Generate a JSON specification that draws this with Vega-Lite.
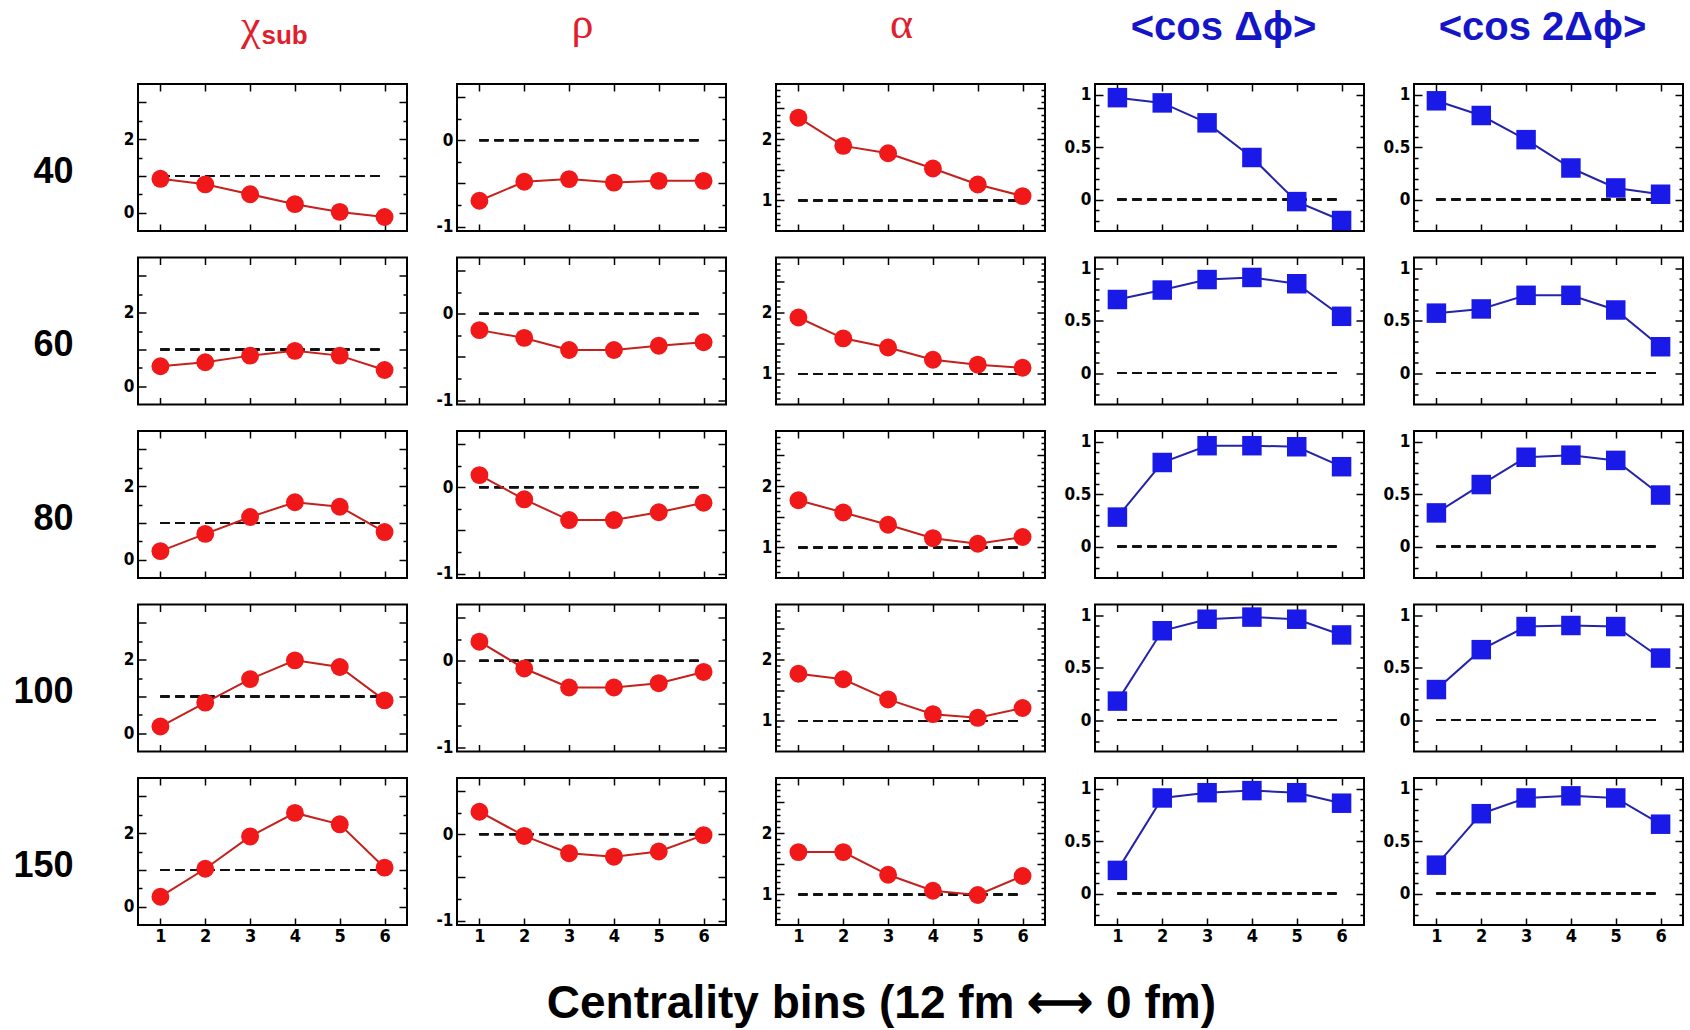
{
"$schema": "https://vega.github.io/schema/vega-lite/v6.json",
"background": "white",
"padding": {"left": 11, "top": 2, "right": 5, "bottom": 5},
"datasets": {"d": [
{"v":"chi","E":40,"bin":1,"val":0.92},{"v":"chi","E":40,"bin":2,"val":0.77},{"v":"chi","E":40,"bin":3,"val":0.50},{"v":"chi","E":40,"bin":4,"val":0.23},{"v":"chi","E":40,"bin":5,"val":0.02},{"v":"chi","E":40,"bin":6,"val":-0.12},
{"v":"chi","E":60,"bin":1,"val":0.54},{"v":"chi","E":60,"bin":2,"val":0.65},{"v":"chi","E":60,"bin":3,"val":0.83},{"v":"chi","E":60,"bin":4,"val":0.96},{"v":"chi","E":60,"bin":5,"val":0.83},{"v":"chi","E":60,"bin":6,"val":0.44},
{"v":"chi","E":80,"bin":1,"val":0.23},{"v":"chi","E":80,"bin":2,"val":0.70},{"v":"chi","E":80,"bin":3,"val":1.16},{"v":"chi","E":80,"bin":4,"val":1.56},{"v":"chi","E":80,"bin":5,"val":1.44},{"v":"chi","E":80,"bin":6,"val":0.75},
{"v":"chi","E":100,"bin":1,"val":0.18},{"v":"chi","E":100,"bin":2,"val":0.83},{"v":"chi","E":100,"bin":3,"val":1.47},{"v":"chi","E":100,"bin":4,"val":1.98},{"v":"chi","E":100,"bin":5,"val":1.80},{"v":"chi","E":100,"bin":6,"val":0.89},
{"v":"chi","E":150,"bin":1,"val":0.27},{"v":"chi","E":150,"bin":2,"val":1.03},{"v":"chi","E":150,"bin":3,"val":1.91},{"v":"chi","E":150,"bin":4,"val":2.55},{"v":"chi","E":150,"bin":5,"val":2.24},{"v":"chi","E":150,"bin":6,"val":1.06},
{"v":"rho","E":40,"bin":1,"val":-0.70},{"v":"rho","E":40,"bin":2,"val":-0.48},{"v":"rho","E":40,"bin":3,"val":-0.45},{"v":"rho","E":40,"bin":4,"val":-0.49},{"v":"rho","E":40,"bin":5,"val":-0.47},{"v":"rho","E":40,"bin":6,"val":-0.47},
{"v":"rho","E":60,"bin":1,"val":-0.19},{"v":"rho","E":60,"bin":2,"val":-0.28},{"v":"rho","E":60,"bin":3,"val":-0.42},{"v":"rho","E":60,"bin":4,"val":-0.42},{"v":"rho","E":60,"bin":5,"val":-0.37},{"v":"rho","E":60,"bin":6,"val":-0.33},
{"v":"rho","E":80,"bin":1,"val":0.14},{"v":"rho","E":80,"bin":2,"val":-0.14},{"v":"rho","E":80,"bin":3,"val":-0.38},{"v":"rho","E":80,"bin":4,"val":-0.38},{"v":"rho","E":80,"bin":5,"val":-0.29},{"v":"rho","E":80,"bin":6,"val":-0.18},
{"v":"rho","E":100,"bin":1,"val":0.22},{"v":"rho","E":100,"bin":2,"val":-0.09},{"v":"rho","E":100,"bin":3,"val":-0.31},{"v":"rho","E":100,"bin":4,"val":-0.31},{"v":"rho","E":100,"bin":5,"val":-0.26},{"v":"rho","E":100,"bin":6,"val":-0.13},
{"v":"rho","E":150,"bin":1,"val":0.26},{"v":"rho","E":150,"bin":2,"val":-0.02},{"v":"rho","E":150,"bin":3,"val":-0.22},{"v":"rho","E":150,"bin":4,"val":-0.26},{"v":"rho","E":150,"bin":5,"val":-0.20},{"v":"rho","E":150,"bin":6,"val":-0.01},
{"v":"alpha","E":40,"bin":1,"val":2.35},{"v":"alpha","E":40,"bin":2,"val":1.89},{"v":"alpha","E":40,"bin":3,"val":1.77},{"v":"alpha","E":40,"bin":4,"val":1.52},{"v":"alpha","E":40,"bin":5,"val":1.26},{"v":"alpha","E":40,"bin":6,"val":1.07},
{"v":"alpha","E":60,"bin":1,"val":1.92},{"v":"alpha","E":60,"bin":2,"val":1.58},{"v":"alpha","E":60,"bin":3,"val":1.43},{"v":"alpha","E":60,"bin":4,"val":1.23},{"v":"alpha","E":60,"bin":5,"val":1.15},{"v":"alpha","E":60,"bin":6,"val":1.10},
{"v":"alpha","E":80,"bin":1,"val":1.77},{"v":"alpha","E":80,"bin":2,"val":1.57},{"v":"alpha","E":80,"bin":3,"val":1.37},{"v":"alpha","E":80,"bin":4,"val":1.15},{"v":"alpha","E":80,"bin":5,"val":1.06},{"v":"alpha","E":80,"bin":6,"val":1.17},
{"v":"alpha","E":100,"bin":1,"val":1.77},{"v":"alpha","E":100,"bin":2,"val":1.68},{"v":"alpha","E":100,"bin":3,"val":1.35},{"v":"alpha","E":100,"bin":4,"val":1.11},{"v":"alpha","E":100,"bin":5,"val":1.05},{"v":"alpha","E":100,"bin":6,"val":1.21},
{"v":"alpha","E":150,"bin":1,"val":1.69},{"v":"alpha","E":150,"bin":2,"val":1.69},{"v":"alpha","E":150,"bin":3,"val":1.32},{"v":"alpha","E":150,"bin":4,"val":1.06},{"v":"alpha","E":150,"bin":5,"val":0.99},{"v":"alpha","E":150,"bin":6,"val":1.30},
{"v":"c1","E":40,"bin":1,"val":0.97},{"v":"c1","E":40,"bin":2,"val":0.92},{"v":"c1","E":40,"bin":3,"val":0.73},{"v":"c1","E":40,"bin":4,"val":0.40},{"v":"c1","E":40,"bin":5,"val":-0.02},{"v":"c1","E":40,"bin":6,"val":-0.20},
{"v":"c1","E":60,"bin":1,"val":0.70},{"v":"c1","E":60,"bin":2,"val":0.79},{"v":"c1","E":60,"bin":3,"val":0.89},{"v":"c1","E":60,"bin":4,"val":0.91},{"v":"c1","E":60,"bin":5,"val":0.85},{"v":"c1","E":60,"bin":6,"val":0.54},
{"v":"c1","E":80,"bin":1,"val":0.28},{"v":"c1","E":80,"bin":2,"val":0.80},{"v":"c1","E":80,"bin":3,"val":0.96},{"v":"c1","E":80,"bin":4,"val":0.96},{"v":"c1","E":80,"bin":5,"val":0.95},{"v":"c1","E":80,"bin":6,"val":0.76},
{"v":"c1","E":100,"bin":1,"val":0.18},{"v":"c1","E":100,"bin":2,"val":0.85},{"v":"c1","E":100,"bin":3,"val":0.96},{"v":"c1","E":100,"bin":4,"val":0.98},{"v":"c1","E":100,"bin":5,"val":0.96},{"v":"c1","E":100,"bin":6,"val":0.81},
{"v":"c1","E":150,"bin":1,"val":0.22},{"v":"c1","E":150,"bin":2,"val":0.91},{"v":"c1","E":150,"bin":3,"val":0.96},{"v":"c1","E":150,"bin":4,"val":0.98},{"v":"c1","E":150,"bin":5,"val":0.96},{"v":"c1","E":150,"bin":6,"val":0.86},
{"v":"c2","E":40,"bin":1,"val":0.94},{"v":"c2","E":40,"bin":2,"val":0.80},{"v":"c2","E":40,"bin":3,"val":0.57},{"v":"c2","E":40,"bin":4,"val":0.30},{"v":"c2","E":40,"bin":5,"val":0.11},{"v":"c2","E":40,"bin":6,"val":0.05},
{"v":"c2","E":60,"bin":1,"val":0.57},{"v":"c2","E":60,"bin":2,"val":0.61},{"v":"c2","E":60,"bin":3,"val":0.74},{"v":"c2","E":60,"bin":4,"val":0.74},{"v":"c2","E":60,"bin":5,"val":0.60},{"v":"c2","E":60,"bin":6,"val":0.25},
{"v":"c2","E":80,"bin":1,"val":0.32},{"v":"c2","E":80,"bin":2,"val":0.59},{"v":"c2","E":80,"bin":3,"val":0.85},{"v":"c2","E":80,"bin":4,"val":0.87},{"v":"c2","E":80,"bin":5,"val":0.82},{"v":"c2","E":80,"bin":6,"val":0.49},
{"v":"c2","E":100,"bin":1,"val":0.29},{"v":"c2","E":100,"bin":2,"val":0.67},{"v":"c2","E":100,"bin":3,"val":0.89},{"v":"c2","E":100,"bin":4,"val":0.90},{"v":"c2","E":100,"bin":5,"val":0.89},{"v":"c2","E":100,"bin":6,"val":0.59},
{"v":"c2","E":150,"bin":1,"val":0.27},{"v":"c2","E":150,"bin":2,"val":0.76},{"v":"c2","E":150,"bin":3,"val":0.91},{"v":"c2","E":150,"bin":4,"val":0.93},{"v":"c2","E":150,"bin":5,"val":0.91},{"v":"c2","E":150,"bin":6,"val":0.66}
]},
"data": {"name": "d"},
"title": {"text": "Centrality bins (12 fm  ⟷ 0 fm)", "orient": "bottom", "anchor": "middle", "fontSize": 46, "font": "Liberation Sans", "fontWeight": "bold", "color": "black", "offset": 36, "dx": 33},
"columns": 5,
"spacing": {"row": 26.5, "column": 50},
"bounds": "flush",
"concat": [
{"transform":[{"filter":"datum.v=='chi'&&datum.E==40"}],
 "layer":[
  {"mark":"rule","encoding":{"x":{"datum":1,"type":"quantitative","scale":{"domain":[0.5,6.5],"nice":false,"zero":false},"axis":null},"x2":{"datum":6},"y":{"datum":1,"type":"quantitative","scale":{"domain":[-0.5,3.5],"nice":false,"zero":false},"axis":null}}},
  {"mark":{"type":"line","color":"#c4201c"},"encoding":{"x":{"field":"bin","type":"quantitative","axis":{"orient":"bottom","values":[1,2,3,4,5,6],"labels":false,"title":null}},"y":{"field":"val","type":"quantitative","axis":{"orient":"left","values":[0,0.5,1,1.5,2,2.5,3],"tickSize":{"condition":{"test":"datum.value%1==0","value":-8},"value":-4},"labelExpr":"datum.value==0?'0':datum.value==2?'2':''","title":"40"}}}},
  {"mark":{"type":"point","shape":"circle","filled":true,"size":320,"color":"#f01818","opacity":1},"encoding":{"x":{"field":"bin","type":"quantitative","axis":{"orient":"top","values":[1,2,3,4,5,6],"title":"sub","titleX":123,"titleY":-41,"titleAlign":"left","titleBaseline":"alphabetic","titleAngle":0,"titleFont":"Liberation Sans","titleFontSize":26,"titleFontWeight":"bold","titleColor":"#e01e2e"}},"y":{"field":"val","type":"quantitative","axis":{"orient":"right","values":[0,0.5,1,1.5,2,2.5,3],"tickSize":{"condition":{"test":"datum.value%1==0","value":-8},"value":-4},"title":"χ","titleX":-147,"titleY":-45,"titleAlign":"right","titleBaseline":"alphabetic","titleAngle":0,"titleFont":"Liberation Serif","titleFontSize":44,"titleFontWeight":"normal","titleColor":"#e01e2e"}}}}
 ],"resolve":{"axis":{"x":"independent","y":"independent"}}},
{"title":{"text":"ρ","font":"Liberation Serif","fontSize":44,"fontWeight":"normal","color":"#e01e2e","offset":36,"dx":-9},
 "transform":[{"filter":"datum.v=='rho'&&datum.E==40"}],
 "layer":[
  {"mark":"rule","encoding":{"x":{"datum":1,"type":"quantitative","scale":{"domain":[0.5,6.5],"nice":false,"zero":false},"axis":null},"x2":{"datum":6},"y":{"datum":0,"type":"quantitative","scale":{"domain":[-1.05,0.65],"nice":false,"zero":false},"axis":null}}},
  {"mark":{"type":"line","color":"#c4201c"},"encoding":{"x":{"field":"bin","type":"quantitative","axis":{"orient":"bottom","values":[1,2,3,4,5,6],"labels":false,"title":null}},"y":{"field":"val","type":"quantitative","axis":{"orient":"left","values":[-1,-0.75,-0.5,-0.25,0,0.25,0.5],"labelExpr":"datum.value==0?'0':datum.value==-1?'-1':''","title":null}}}},
  {"mark":{"type":"point","shape":"circle","filled":true,"size":320,"color":"#f01818","opacity":1},"encoding":{"x":{"field":"bin","type":"quantitative","axis":{"orient":"top","values":[1,2,3,4,5,6],"title":null}},"y":{"field":"val","type":"quantitative","axis":{"orient":"right","values":[-1,-0.75,-0.5,-0.25,0,0.25,0.5],"title":null}}}}
 ],"resolve":{"axis":{"x":"independent","y":"independent"}}},
{"title":{"text":"α","font":"Liberation Serif","fontSize":44,"fontWeight":"normal","color":"#e01e2e","offset":36,"dx":-9},
 "transform":[{"filter":"datum.v=='alpha'&&datum.E==40"}],
 "layer":[
  {"mark":"rule","encoding":{"x":{"datum":1,"type":"quantitative","scale":{"domain":[0.5,6.5],"nice":false,"zero":false},"axis":null},"x2":{"datum":6},"y":{"datum":1,"type":"quantitative","scale":{"domain":[0.5,2.9],"nice":false,"zero":false},"axis":null}}},
  {"mark":{"type":"line","color":"#c4201c"},"encoding":{"x":{"field":"bin","type":"quantitative","axis":{"orient":"bottom","values":[1,2,3,4,5,6],"labels":false,"title":null}},"y":{"field":"val","type":"quantitative","axis":{"orient":"left","values":[0.6,0.7,0.8,0.9,1,1.1,1.2,1.3,1.4,1.5,1.6,1.7,1.8,1.9,2,2.1,2.2,2.3,2.4,2.5,2.6,2.7,2.8],"labelExpr":"datum.value==1?'1':datum.value==2?'2':''","title":null}}}},
  {"mark":{"type":"point","shape":"circle","filled":true,"size":320,"color":"#f01818","opacity":1},"encoding":{"x":{"field":"bin","type":"quantitative","axis":{"orient":"top","values":[1,2,3,4,5,6],"title":null}},"y":{"field":"val","type":"quantitative","axis":{"orient":"right","values":[0.6,0.7,0.8,0.9,1,1.1,1.2,1.3,1.4,1.5,1.6,1.7,1.8,1.9,2,2.1,2.2,2.3,2.4,2.5,2.6,2.7,2.8],"title":null}}}}
 ],"resolve":{"axis":{"x":"independent","y":"independent"}}},
{"title":{"text":"<cos Δϕ>","font":"Liberation Sans","fontSize":40,"fontWeight":"bold","color":"#1515c8","offset":35,"dx":-6},
 "transform":[{"filter":"datum.v=='c1'&&datum.E==40"}],
 "layer":[
  {"mark":"rule","encoding":{"x":{"datum":1,"type":"quantitative","scale":{"domain":[0.5,6.5],"nice":false,"zero":false},"axis":null},"x2":{"datum":6},"y":{"datum":0,"type":"quantitative","scale":{"domain":[-0.3,1.1],"nice":false,"zero":false},"axis":null}}},
  {"mark":{"type":"line","color":"#2424a8"},"encoding":{"x":{"field":"bin","type":"quantitative","axis":{"orient":"bottom","values":[1,2,3,4,5,6],"labels":false,"title":null}},"y":{"field":"val","type":"quantitative","axis":{"orient":"left","values":[-0.2,-0.1,0,0.1,0.2,0.3,0.4,0.5,0.6,0.7,0.8,0.9,1],"labelExpr":"datum.value==0?'0':datum.value==0.5?'0.5':datum.value==1?'1':''","title":null}}}},
  {"mark":{"type":"point","shape":"square","filled":true,"size":380,"color":"#1a1ae8","opacity":1},"encoding":{"x":{"field":"bin","type":"quantitative","axis":{"orient":"top","values":[1,2,3,4,5,6],"title":null}},"y":{"field":"val","type":"quantitative","axis":{"orient":"right","values":[-0.2,-0.1,0,0.1,0.2,0.3,0.4,0.5,0.6,0.7,0.8,0.9,1],"title":null}}}}
 ],"resolve":{"axis":{"x":"independent","y":"independent"}}},
{"title":{"text":"<cos 2Δϕ>","font":"Liberation Sans","fontSize":40,"fontWeight":"bold","color":"#1515c8","offset":35,"dx":-6},
 "transform":[{"filter":"datum.v=='c2'&&datum.E==40"}],
 "layer":[
  {"mark":"rule","encoding":{"x":{"datum":1,"type":"quantitative","scale":{"domain":[0.5,6.5],"nice":false,"zero":false},"axis":null},"x2":{"datum":6},"y":{"datum":0,"type":"quantitative","scale":{"domain":[-0.3,1.1],"nice":false,"zero":false},"axis":null}}},
  {"mark":{"type":"line","color":"#2424a8"},"encoding":{"x":{"field":"bin","type":"quantitative","axis":{"orient":"bottom","values":[1,2,3,4,5,6],"labels":false,"title":null}},"y":{"field":"val","type":"quantitative","axis":{"orient":"left","values":[-0.2,-0.1,0,0.1,0.2,0.3,0.4,0.5,0.6,0.7,0.8,0.9,1],"labelExpr":"datum.value==0?'0':datum.value==0.5?'0.5':datum.value==1?'1':''","title":null}}}},
  {"mark":{"type":"point","shape":"square","filled":true,"size":380,"color":"#1a1ae8","opacity":1},"encoding":{"x":{"field":"bin","type":"quantitative","axis":{"orient":"top","values":[1,2,3,4,5,6],"title":null}},"y":{"field":"val","type":"quantitative","axis":{"orient":"right","values":[-0.2,-0.1,0,0.1,0.2,0.3,0.4,0.5,0.6,0.7,0.8,0.9,1],"title":null}}}}
 ],"resolve":{"axis":{"x":"independent","y":"independent"}}},

{"transform":[{"filter":"datum.v=='chi'&&datum.E==60"}],
 "layer":[
  {"mark":"rule","encoding":{"x":{"datum":1,"type":"quantitative","scale":{"domain":[0.5,6.5],"nice":false,"zero":false},"axis":null},"x2":{"datum":6},"y":{"datum":1,"type":"quantitative","scale":{"domain":[-0.5,3.5],"nice":false,"zero":false},"axis":null}}},
  {"mark":{"type":"line","color":"#c4201c"},"encoding":{"x":{"field":"bin","type":"quantitative","axis":{"orient":"bottom","values":[1,2,3,4,5,6],"labels":false,"title":null}},"y":{"field":"val","type":"quantitative","axis":{"orient":"left","values":[0,0.5,1,1.5,2,2.5,3],"tickSize":{"condition":{"test":"datum.value%1==0","value":-8},"value":-4},"labelExpr":"datum.value==0?'0':datum.value==2?'2':''","title":"60"}}}},
  {"mark":{"type":"point","shape":"circle","filled":true,"size":320,"color":"#f01818","opacity":1},"encoding":{"x":{"field":"bin","type":"quantitative","axis":{"orient":"top","values":[1,2,3,4,5,6],"title":null}},"y":{"field":"val","type":"quantitative","axis":{"orient":"right","values":[0,0.5,1,1.5,2,2.5,3],"tickSize":{"condition":{"test":"datum.value%1==0","value":-8},"value":-4},"title":null}}}}
 ],"resolve":{"axis":{"x":"independent","y":"independent"}}},
{"transform":[{"filter":"datum.v=='rho'&&datum.E==60"}],
 "layer":[
  {"mark":"rule","encoding":{"x":{"datum":1,"type":"quantitative","scale":{"domain":[0.5,6.5],"nice":false,"zero":false},"axis":null},"x2":{"datum":6},"y":{"datum":0,"type":"quantitative","scale":{"domain":[-1.05,0.65],"nice":false,"zero":false},"axis":null}}},
  {"mark":{"type":"line","color":"#c4201c"},"encoding":{"x":{"field":"bin","type":"quantitative","axis":{"orient":"bottom","values":[1,2,3,4,5,6],"labels":false,"title":null}},"y":{"field":"val","type":"quantitative","axis":{"orient":"left","values":[-1,-0.75,-0.5,-0.25,0,0.25,0.5],"labelExpr":"datum.value==0?'0':datum.value==-1?'-1':''","title":null}}}},
  {"mark":{"type":"point","shape":"circle","filled":true,"size":320,"color":"#f01818","opacity":1},"encoding":{"x":{"field":"bin","type":"quantitative","axis":{"orient":"top","values":[1,2,3,4,5,6],"title":null}},"y":{"field":"val","type":"quantitative","axis":{"orient":"right","values":[-1,-0.75,-0.5,-0.25,0,0.25,0.5],"title":null}}}}
 ],"resolve":{"axis":{"x":"independent","y":"independent"}}},
{"transform":[{"filter":"datum.v=='alpha'&&datum.E==60"}],
 "layer":[
  {"mark":"rule","encoding":{"x":{"datum":1,"type":"quantitative","scale":{"domain":[0.5,6.5],"nice":false,"zero":false},"axis":null},"x2":{"datum":6},"y":{"datum":1,"type":"quantitative","scale":{"domain":[0.5,2.9],"nice":false,"zero":false},"axis":null}}},
  {"mark":{"type":"line","color":"#c4201c"},"encoding":{"x":{"field":"bin","type":"quantitative","axis":{"orient":"bottom","values":[1,2,3,4,5,6],"labels":false,"title":null}},"y":{"field":"val","type":"quantitative","axis":{"orient":"left","values":[0.6,0.7,0.8,0.9,1,1.1,1.2,1.3,1.4,1.5,1.6,1.7,1.8,1.9,2,2.1,2.2,2.3,2.4,2.5,2.6,2.7,2.8],"labelExpr":"datum.value==1?'1':datum.value==2?'2':''","title":null}}}},
  {"mark":{"type":"point","shape":"circle","filled":true,"size":320,"color":"#f01818","opacity":1},"encoding":{"x":{"field":"bin","type":"quantitative","axis":{"orient":"top","values":[1,2,3,4,5,6],"title":null}},"y":{"field":"val","type":"quantitative","axis":{"orient":"right","values":[0.6,0.7,0.8,0.9,1,1.1,1.2,1.3,1.4,1.5,1.6,1.7,1.8,1.9,2,2.1,2.2,2.3,2.4,2.5,2.6,2.7,2.8],"title":null}}}}
 ],"resolve":{"axis":{"x":"independent","y":"independent"}}},
{"transform":[{"filter":"datum.v=='c1'&&datum.E==60"}],
 "layer":[
  {"mark":"rule","encoding":{"x":{"datum":1,"type":"quantitative","scale":{"domain":[0.5,6.5],"nice":false,"zero":false},"axis":null},"x2":{"datum":6},"y":{"datum":0,"type":"quantitative","scale":{"domain":[-0.3,1.1],"nice":false,"zero":false},"axis":null}}},
  {"mark":{"type":"line","color":"#2424a8"},"encoding":{"x":{"field":"bin","type":"quantitative","axis":{"orient":"bottom","values":[1,2,3,4,5,6],"labels":false,"title":null}},"y":{"field":"val","type":"quantitative","axis":{"orient":"left","values":[-0.2,-0.1,0,0.1,0.2,0.3,0.4,0.5,0.6,0.7,0.8,0.9,1],"labelExpr":"datum.value==0?'0':datum.value==0.5?'0.5':datum.value==1?'1':''","title":null}}}},
  {"mark":{"type":"point","shape":"square","filled":true,"size":380,"color":"#1a1ae8","opacity":1},"encoding":{"x":{"field":"bin","type":"quantitative","axis":{"orient":"top","values":[1,2,3,4,5,6],"title":null}},"y":{"field":"val","type":"quantitative","axis":{"orient":"right","values":[-0.2,-0.1,0,0.1,0.2,0.3,0.4,0.5,0.6,0.7,0.8,0.9,1],"title":null}}}}
 ],"resolve":{"axis":{"x":"independent","y":"independent"}}},
{"transform":[{"filter":"datum.v=='c2'&&datum.E==60"}],
 "layer":[
  {"mark":"rule","encoding":{"x":{"datum":1,"type":"quantitative","scale":{"domain":[0.5,6.5],"nice":false,"zero":false},"axis":null},"x2":{"datum":6},"y":{"datum":0,"type":"quantitative","scale":{"domain":[-0.3,1.1],"nice":false,"zero":false},"axis":null}}},
  {"mark":{"type":"line","color":"#2424a8"},"encoding":{"x":{"field":"bin","type":"quantitative","axis":{"orient":"bottom","values":[1,2,3,4,5,6],"labels":false,"title":null}},"y":{"field":"val","type":"quantitative","axis":{"orient":"left","values":[-0.2,-0.1,0,0.1,0.2,0.3,0.4,0.5,0.6,0.7,0.8,0.9,1],"labelExpr":"datum.value==0?'0':datum.value==0.5?'0.5':datum.value==1?'1':''","title":null}}}},
  {"mark":{"type":"point","shape":"square","filled":true,"size":380,"color":"#1a1ae8","opacity":1},"encoding":{"x":{"field":"bin","type":"quantitative","axis":{"orient":"top","values":[1,2,3,4,5,6],"title":null}},"y":{"field":"val","type":"quantitative","axis":{"orient":"right","values":[-0.2,-0.1,0,0.1,0.2,0.3,0.4,0.5,0.6,0.7,0.8,0.9,1],"title":null}}}}
 ],"resolve":{"axis":{"x":"independent","y":"independent"}}},

{"transform":[{"filter":"datum.v=='chi'&&datum.E==80"}],
 "layer":[
  {"mark":"rule","encoding":{"x":{"datum":1,"type":"quantitative","scale":{"domain":[0.5,6.5],"nice":false,"zero":false},"axis":null},"x2":{"datum":6},"y":{"datum":1,"type":"quantitative","scale":{"domain":[-0.5,3.5],"nice":false,"zero":false},"axis":null}}},
  {"mark":{"type":"line","color":"#c4201c"},"encoding":{"x":{"field":"bin","type":"quantitative","axis":{"orient":"bottom","values":[1,2,3,4,5,6],"labels":false,"title":null}},"y":{"field":"val","type":"quantitative","axis":{"orient":"left","values":[0,0.5,1,1.5,2,2.5,3],"tickSize":{"condition":{"test":"datum.value%1==0","value":-8},"value":-4},"labelExpr":"datum.value==0?'0':datum.value==2?'2':''","title":"80"}}}},
  {"mark":{"type":"point","shape":"circle","filled":true,"size":320,"color":"#f01818","opacity":1},"encoding":{"x":{"field":"bin","type":"quantitative","axis":{"orient":"top","values":[1,2,3,4,5,6],"title":null}},"y":{"field":"val","type":"quantitative","axis":{"orient":"right","values":[0,0.5,1,1.5,2,2.5,3],"tickSize":{"condition":{"test":"datum.value%1==0","value":-8},"value":-4},"title":null}}}}
 ],"resolve":{"axis":{"x":"independent","y":"independent"}}},
{"transform":[{"filter":"datum.v=='rho'&&datum.E==80"}],
 "layer":[
  {"mark":"rule","encoding":{"x":{"datum":1,"type":"quantitative","scale":{"domain":[0.5,6.5],"nice":false,"zero":false},"axis":null},"x2":{"datum":6},"y":{"datum":0,"type":"quantitative","scale":{"domain":[-1.05,0.65],"nice":false,"zero":false},"axis":null}}},
  {"mark":{"type":"line","color":"#c4201c"},"encoding":{"x":{"field":"bin","type":"quantitative","axis":{"orient":"bottom","values":[1,2,3,4,5,6],"labels":false,"title":null}},"y":{"field":"val","type":"quantitative","axis":{"orient":"left","values":[-1,-0.75,-0.5,-0.25,0,0.25,0.5],"labelExpr":"datum.value==0?'0':datum.value==-1?'-1':''","title":null}}}},
  {"mark":{"type":"point","shape":"circle","filled":true,"size":320,"color":"#f01818","opacity":1},"encoding":{"x":{"field":"bin","type":"quantitative","axis":{"orient":"top","values":[1,2,3,4,5,6],"title":null}},"y":{"field":"val","type":"quantitative","axis":{"orient":"right","values":[-1,-0.75,-0.5,-0.25,0,0.25,0.5],"title":null}}}}
 ],"resolve":{"axis":{"x":"independent","y":"independent"}}},
{"transform":[{"filter":"datum.v=='alpha'&&datum.E==80"}],
 "layer":[
  {"mark":"rule","encoding":{"x":{"datum":1,"type":"quantitative","scale":{"domain":[0.5,6.5],"nice":false,"zero":false},"axis":null},"x2":{"datum":6},"y":{"datum":1,"type":"quantitative","scale":{"domain":[0.5,2.9],"nice":false,"zero":false},"axis":null}}},
  {"mark":{"type":"line","color":"#c4201c"},"encoding":{"x":{"field":"bin","type":"quantitative","axis":{"orient":"bottom","values":[1,2,3,4,5,6],"labels":false,"title":null}},"y":{"field":"val","type":"quantitative","axis":{"orient":"left","values":[0.6,0.7,0.8,0.9,1,1.1,1.2,1.3,1.4,1.5,1.6,1.7,1.8,1.9,2,2.1,2.2,2.3,2.4,2.5,2.6,2.7,2.8],"labelExpr":"datum.value==1?'1':datum.value==2?'2':''","title":null}}}},
  {"mark":{"type":"point","shape":"circle","filled":true,"size":320,"color":"#f01818","opacity":1},"encoding":{"x":{"field":"bin","type":"quantitative","axis":{"orient":"top","values":[1,2,3,4,5,6],"title":null}},"y":{"field":"val","type":"quantitative","axis":{"orient":"right","values":[0.6,0.7,0.8,0.9,1,1.1,1.2,1.3,1.4,1.5,1.6,1.7,1.8,1.9,2,2.1,2.2,2.3,2.4,2.5,2.6,2.7,2.8],"title":null}}}}
 ],"resolve":{"axis":{"x":"independent","y":"independent"}}},
{"transform":[{"filter":"datum.v=='c1'&&datum.E==80"}],
 "layer":[
  {"mark":"rule","encoding":{"x":{"datum":1,"type":"quantitative","scale":{"domain":[0.5,6.5],"nice":false,"zero":false},"axis":null},"x2":{"datum":6},"y":{"datum":0,"type":"quantitative","scale":{"domain":[-0.3,1.1],"nice":false,"zero":false},"axis":null}}},
  {"mark":{"type":"line","color":"#2424a8"},"encoding":{"x":{"field":"bin","type":"quantitative","axis":{"orient":"bottom","values":[1,2,3,4,5,6],"labels":false,"title":null}},"y":{"field":"val","type":"quantitative","axis":{"orient":"left","values":[-0.2,-0.1,0,0.1,0.2,0.3,0.4,0.5,0.6,0.7,0.8,0.9,1],"labelExpr":"datum.value==0?'0':datum.value==0.5?'0.5':datum.value==1?'1':''","title":null}}}},
  {"mark":{"type":"point","shape":"square","filled":true,"size":380,"color":"#1a1ae8","opacity":1},"encoding":{"x":{"field":"bin","type":"quantitative","axis":{"orient":"top","values":[1,2,3,4,5,6],"title":null}},"y":{"field":"val","type":"quantitative","axis":{"orient":"right","values":[-0.2,-0.1,0,0.1,0.2,0.3,0.4,0.5,0.6,0.7,0.8,0.9,1],"title":null}}}}
 ],"resolve":{"axis":{"x":"independent","y":"independent"}}},
{"transform":[{"filter":"datum.v=='c2'&&datum.E==80"}],
 "layer":[
  {"mark":"rule","encoding":{"x":{"datum":1,"type":"quantitative","scale":{"domain":[0.5,6.5],"nice":false,"zero":false},"axis":null},"x2":{"datum":6},"y":{"datum":0,"type":"quantitative","scale":{"domain":[-0.3,1.1],"nice":false,"zero":false},"axis":null}}},
  {"mark":{"type":"line","color":"#2424a8"},"encoding":{"x":{"field":"bin","type":"quantitative","axis":{"orient":"bottom","values":[1,2,3,4,5,6],"labels":false,"title":null}},"y":{"field":"val","type":"quantitative","axis":{"orient":"left","values":[-0.2,-0.1,0,0.1,0.2,0.3,0.4,0.5,0.6,0.7,0.8,0.9,1],"labelExpr":"datum.value==0?'0':datum.value==0.5?'0.5':datum.value==1?'1':''","title":null}}}},
  {"mark":{"type":"point","shape":"square","filled":true,"size":380,"color":"#1a1ae8","opacity":1},"encoding":{"x":{"field":"bin","type":"quantitative","axis":{"orient":"top","values":[1,2,3,4,5,6],"title":null}},"y":{"field":"val","type":"quantitative","axis":{"orient":"right","values":[-0.2,-0.1,0,0.1,0.2,0.3,0.4,0.5,0.6,0.7,0.8,0.9,1],"title":null}}}}
 ],"resolve":{"axis":{"x":"independent","y":"independent"}}},

{"transform":[{"filter":"datum.v=='chi'&&datum.E==100"}],
 "layer":[
  {"mark":"rule","encoding":{"x":{"datum":1,"type":"quantitative","scale":{"domain":[0.5,6.5],"nice":false,"zero":false},"axis":null},"x2":{"datum":6},"y":{"datum":1,"type":"quantitative","scale":{"domain":[-0.5,3.5],"nice":false,"zero":false},"axis":null}}},
  {"mark":{"type":"line","color":"#c4201c"},"encoding":{"x":{"field":"bin","type":"quantitative","axis":{"orient":"bottom","values":[1,2,3,4,5,6],"labels":false,"title":null}},"y":{"field":"val","type":"quantitative","axis":{"orient":"left","values":[0,0.5,1,1.5,2,2.5,3],"tickSize":{"condition":{"test":"datum.value%1==0","value":-8},"value":-4},"labelExpr":"datum.value==0?'0':datum.value==2?'2':''","title":"100"}}}},
  {"mark":{"type":"point","shape":"circle","filled":true,"size":320,"color":"#f01818","opacity":1},"encoding":{"x":{"field":"bin","type":"quantitative","axis":{"orient":"top","values":[1,2,3,4,5,6],"title":null}},"y":{"field":"val","type":"quantitative","axis":{"orient":"right","values":[0,0.5,1,1.5,2,2.5,3],"tickSize":{"condition":{"test":"datum.value%1==0","value":-8},"value":-4},"title":null}}}}
 ],"resolve":{"axis":{"x":"independent","y":"independent"}}},
{"transform":[{"filter":"datum.v=='rho'&&datum.E==100"}],
 "layer":[
  {"mark":"rule","encoding":{"x":{"datum":1,"type":"quantitative","scale":{"domain":[0.5,6.5],"nice":false,"zero":false},"axis":null},"x2":{"datum":6},"y":{"datum":0,"type":"quantitative","scale":{"domain":[-1.05,0.65],"nice":false,"zero":false},"axis":null}}},
  {"mark":{"type":"line","color":"#c4201c"},"encoding":{"x":{"field":"bin","type":"quantitative","axis":{"orient":"bottom","values":[1,2,3,4,5,6],"labels":false,"title":null}},"y":{"field":"val","type":"quantitative","axis":{"orient":"left","values":[-1,-0.75,-0.5,-0.25,0,0.25,0.5],"labelExpr":"datum.value==0?'0':datum.value==-1?'-1':''","title":null}}}},
  {"mark":{"type":"point","shape":"circle","filled":true,"size":320,"color":"#f01818","opacity":1},"encoding":{"x":{"field":"bin","type":"quantitative","axis":{"orient":"top","values":[1,2,3,4,5,6],"title":null}},"y":{"field":"val","type":"quantitative","axis":{"orient":"right","values":[-1,-0.75,-0.5,-0.25,0,0.25,0.5],"title":null}}}}
 ],"resolve":{"axis":{"x":"independent","y":"independent"}}},
{"transform":[{"filter":"datum.v=='alpha'&&datum.E==100"}],
 "layer":[
  {"mark":"rule","encoding":{"x":{"datum":1,"type":"quantitative","scale":{"domain":[0.5,6.5],"nice":false,"zero":false},"axis":null},"x2":{"datum":6},"y":{"datum":1,"type":"quantitative","scale":{"domain":[0.5,2.9],"nice":false,"zero":false},"axis":null}}},
  {"mark":{"type":"line","color":"#c4201c"},"encoding":{"x":{"field":"bin","type":"quantitative","axis":{"orient":"bottom","values":[1,2,3,4,5,6],"labels":false,"title":null}},"y":{"field":"val","type":"quantitative","axis":{"orient":"left","values":[0.6,0.7,0.8,0.9,1,1.1,1.2,1.3,1.4,1.5,1.6,1.7,1.8,1.9,2,2.1,2.2,2.3,2.4,2.5,2.6,2.7,2.8],"labelExpr":"datum.value==1?'1':datum.value==2?'2':''","title":null}}}},
  {"mark":{"type":"point","shape":"circle","filled":true,"size":320,"color":"#f01818","opacity":1},"encoding":{"x":{"field":"bin","type":"quantitative","axis":{"orient":"top","values":[1,2,3,4,5,6],"title":null}},"y":{"field":"val","type":"quantitative","axis":{"orient":"right","values":[0.6,0.7,0.8,0.9,1,1.1,1.2,1.3,1.4,1.5,1.6,1.7,1.8,1.9,2,2.1,2.2,2.3,2.4,2.5,2.6,2.7,2.8],"title":null}}}}
 ],"resolve":{"axis":{"x":"independent","y":"independent"}}},
{"transform":[{"filter":"datum.v=='c1'&&datum.E==100"}],
 "layer":[
  {"mark":"rule","encoding":{"x":{"datum":1,"type":"quantitative","scale":{"domain":[0.5,6.5],"nice":false,"zero":false},"axis":null},"x2":{"datum":6},"y":{"datum":0,"type":"quantitative","scale":{"domain":[-0.3,1.1],"nice":false,"zero":false},"axis":null}}},
  {"mark":{"type":"line","color":"#2424a8"},"encoding":{"x":{"field":"bin","type":"quantitative","axis":{"orient":"bottom","values":[1,2,3,4,5,6],"labels":false,"title":null}},"y":{"field":"val","type":"quantitative","axis":{"orient":"left","values":[-0.2,-0.1,0,0.1,0.2,0.3,0.4,0.5,0.6,0.7,0.8,0.9,1],"labelExpr":"datum.value==0?'0':datum.value==0.5?'0.5':datum.value==1?'1':''","title":null}}}},
  {"mark":{"type":"point","shape":"square","filled":true,"size":380,"color":"#1a1ae8","opacity":1},"encoding":{"x":{"field":"bin","type":"quantitative","axis":{"orient":"top","values":[1,2,3,4,5,6],"title":null}},"y":{"field":"val","type":"quantitative","axis":{"orient":"right","values":[-0.2,-0.1,0,0.1,0.2,0.3,0.4,0.5,0.6,0.7,0.8,0.9,1],"title":null}}}}
 ],"resolve":{"axis":{"x":"independent","y":"independent"}}},
{"transform":[{"filter":"datum.v=='c2'&&datum.E==100"}],
 "layer":[
  {"mark":"rule","encoding":{"x":{"datum":1,"type":"quantitative","scale":{"domain":[0.5,6.5],"nice":false,"zero":false},"axis":null},"x2":{"datum":6},"y":{"datum":0,"type":"quantitative","scale":{"domain":[-0.3,1.1],"nice":false,"zero":false},"axis":null}}},
  {"mark":{"type":"line","color":"#2424a8"},"encoding":{"x":{"field":"bin","type":"quantitative","axis":{"orient":"bottom","values":[1,2,3,4,5,6],"labels":false,"title":null}},"y":{"field":"val","type":"quantitative","axis":{"orient":"left","values":[-0.2,-0.1,0,0.1,0.2,0.3,0.4,0.5,0.6,0.7,0.8,0.9,1],"labelExpr":"datum.value==0?'0':datum.value==0.5?'0.5':datum.value==1?'1':''","title":null}}}},
  {"mark":{"type":"point","shape":"square","filled":true,"size":380,"color":"#1a1ae8","opacity":1},"encoding":{"x":{"field":"bin","type":"quantitative","axis":{"orient":"top","values":[1,2,3,4,5,6],"title":null}},"y":{"field":"val","type":"quantitative","axis":{"orient":"right","values":[-0.2,-0.1,0,0.1,0.2,0.3,0.4,0.5,0.6,0.7,0.8,0.9,1],"title":null}}}}
 ],"resolve":{"axis":{"x":"independent","y":"independent"}}},

{"transform":[{"filter":"datum.v=='chi'&&datum.E==150"}],
 "layer":[
  {"mark":"rule","encoding":{"x":{"datum":1,"type":"quantitative","scale":{"domain":[0.5,6.5],"nice":false,"zero":false},"axis":null},"x2":{"datum":6},"y":{"datum":1,"type":"quantitative","scale":{"domain":[-0.5,3.5],"nice":false,"zero":false},"axis":null}}},
  {"mark":{"type":"line","color":"#c4201c"},"encoding":{"x":{"field":"bin","type":"quantitative","axis":{"orient":"bottom","values":[1,2,3,4,5,6],"title":null}},"y":{"field":"val","type":"quantitative","axis":{"orient":"left","values":[0,0.5,1,1.5,2,2.5,3],"tickSize":{"condition":{"test":"datum.value%1==0","value":-8},"value":-4},"labelExpr":"datum.value==0?'0':datum.value==2?'2':''","title":"150"}}}},
  {"mark":{"type":"point","shape":"circle","filled":true,"size":320,"color":"#f01818","opacity":1},"encoding":{"x":{"field":"bin","type":"quantitative","axis":{"orient":"top","values":[1,2,3,4,5,6],"title":null}},"y":{"field":"val","type":"quantitative","axis":{"orient":"right","values":[0,0.5,1,1.5,2,2.5,3],"tickSize":{"condition":{"test":"datum.value%1==0","value":-8},"value":-4},"title":null}}}}
 ],"resolve":{"axis":{"x":"independent","y":"independent"}}},
{"transform":[{"filter":"datum.v=='rho'&&datum.E==150"}],
 "layer":[
  {"mark":"rule","encoding":{"x":{"datum":1,"type":"quantitative","scale":{"domain":[0.5,6.5],"nice":false,"zero":false},"axis":null},"x2":{"datum":6},"y":{"datum":0,"type":"quantitative","scale":{"domain":[-1.05,0.65],"nice":false,"zero":false},"axis":null}}},
  {"mark":{"type":"line","color":"#c4201c"},"encoding":{"x":{"field":"bin","type":"quantitative","axis":{"orient":"bottom","values":[1,2,3,4,5,6],"title":null}},"y":{"field":"val","type":"quantitative","axis":{"orient":"left","values":[-1,-0.75,-0.5,-0.25,0,0.25,0.5],"labelExpr":"datum.value==0?'0':datum.value==-1?'-1':''","title":null}}}},
  {"mark":{"type":"point","shape":"circle","filled":true,"size":320,"color":"#f01818","opacity":1},"encoding":{"x":{"field":"bin","type":"quantitative","axis":{"orient":"top","values":[1,2,3,4,5,6],"title":null}},"y":{"field":"val","type":"quantitative","axis":{"orient":"right","values":[-1,-0.75,-0.5,-0.25,0,0.25,0.5],"title":null}}}}
 ],"resolve":{"axis":{"x":"independent","y":"independent"}}},
{"transform":[{"filter":"datum.v=='alpha'&&datum.E==150"}],
 "layer":[
  {"mark":"rule","encoding":{"x":{"datum":1,"type":"quantitative","scale":{"domain":[0.5,6.5],"nice":false,"zero":false},"axis":null},"x2":{"datum":6},"y":{"datum":1,"type":"quantitative","scale":{"domain":[0.5,2.9],"nice":false,"zero":false},"axis":null}}},
  {"mark":{"type":"line","color":"#c4201c"},"encoding":{"x":{"field":"bin","type":"quantitative","axis":{"orient":"bottom","values":[1,2,3,4,5,6],"title":null}},"y":{"field":"val","type":"quantitative","axis":{"orient":"left","values":[0.6,0.7,0.8,0.9,1,1.1,1.2,1.3,1.4,1.5,1.6,1.7,1.8,1.9,2,2.1,2.2,2.3,2.4,2.5,2.6,2.7,2.8],"labelExpr":"datum.value==1?'1':datum.value==2?'2':''","title":null}}}},
  {"mark":{"type":"point","shape":"circle","filled":true,"size":320,"color":"#f01818","opacity":1},"encoding":{"x":{"field":"bin","type":"quantitative","axis":{"orient":"top","values":[1,2,3,4,5,6],"title":null}},"y":{"field":"val","type":"quantitative","axis":{"orient":"right","values":[0.6,0.7,0.8,0.9,1,1.1,1.2,1.3,1.4,1.5,1.6,1.7,1.8,1.9,2,2.1,2.2,2.3,2.4,2.5,2.6,2.7,2.8],"title":null}}}}
 ],"resolve":{"axis":{"x":"independent","y":"independent"}}},
{"transform":[{"filter":"datum.v=='c1'&&datum.E==150"}],
 "layer":[
  {"mark":"rule","encoding":{"x":{"datum":1,"type":"quantitative","scale":{"domain":[0.5,6.5],"nice":false,"zero":false},"axis":null},"x2":{"datum":6},"y":{"datum":0,"type":"quantitative","scale":{"domain":[-0.3,1.1],"nice":false,"zero":false},"axis":null}}},
  {"mark":{"type":"line","color":"#2424a8"},"encoding":{"x":{"field":"bin","type":"quantitative","axis":{"orient":"bottom","values":[1,2,3,4,5,6],"title":null}},"y":{"field":"val","type":"quantitative","axis":{"orient":"left","values":[-0.2,-0.1,0,0.1,0.2,0.3,0.4,0.5,0.6,0.7,0.8,0.9,1],"labelExpr":"datum.value==0?'0':datum.value==0.5?'0.5':datum.value==1?'1':''","title":null}}}},
  {"mark":{"type":"point","shape":"square","filled":true,"size":380,"color":"#1a1ae8","opacity":1},"encoding":{"x":{"field":"bin","type":"quantitative","axis":{"orient":"top","values":[1,2,3,4,5,6],"title":null}},"y":{"field":"val","type":"quantitative","axis":{"orient":"right","values":[-0.2,-0.1,0,0.1,0.2,0.3,0.4,0.5,0.6,0.7,0.8,0.9,1],"title":null}}}}
 ],"resolve":{"axis":{"x":"independent","y":"independent"}}},
{"transform":[{"filter":"datum.v=='c2'&&datum.E==150"}],
 "layer":[
  {"mark":"rule","encoding":{"x":{"datum":1,"type":"quantitative","scale":{"domain":[0.5,6.5],"nice":false,"zero":false},"axis":null},"x2":{"datum":6},"y":{"datum":0,"type":"quantitative","scale":{"domain":[-0.3,1.1],"nice":false,"zero":false},"axis":null}}},
  {"mark":{"type":"line","color":"#2424a8"},"encoding":{"x":{"field":"bin","type":"quantitative","axis":{"orient":"bottom","values":[1,2,3,4,5,6],"title":null}},"y":{"field":"val","type":"quantitative","axis":{"orient":"left","values":[-0.2,-0.1,0,0.1,0.2,0.3,0.4,0.5,0.6,0.7,0.8,0.9,1],"labelExpr":"datum.value==0?'0':datum.value==0.5?'0.5':datum.value==1?'1':''","title":null}}}},
  {"mark":{"type":"point","shape":"square","filled":true,"size":380,"color":"#1a1ae8","opacity":1},"encoding":{"x":{"field":"bin","type":"quantitative","axis":{"orient":"top","values":[1,2,3,4,5,6],"title":null}},"y":{"field":"val","type":"quantitative","axis":{"orient":"right","values":[-0.2,-0.1,0,0.1,0.2,0.3,0.4,0.5,0.6,0.7,0.8,0.9,1],"title":null}}}}
 ],"resolve":{"axis":{"x":"independent","y":"independent"}}}
],
"config": {
 "view": {"continuousWidth": 269, "continuousHeight": 147, "stroke": "black", "strokeWidth": 2, "fill": "white"},
 "rule": {"strokeDash": [9, 6], "strokeWidth": 2, "color": "#111"},
 "line": {"strokeWidth": 2},
 "axis": {"domain": false, "grid": false, "ticks": true, "tickColor": "black", "tickWidth": 1.5, "labelFont": "Liberation Sans Narrow, DejaVu Sans Condensed, sans-serif", "labelFontWeight": "bold", "labelFontSize": 17, "labelColor": "black"},
 "axisTop": {"labels": false, "tickSize": -7},
 "axisBottom": {"labelFontSize": 18, "tickSize": -7, "labelPadding": 9},
 "axisRight": {"labels": false, "tickSize": {"condition": {"test": "abs(datum.value*2-round(datum.value*2))<0.001", "value": -8}, "value": -4}},
 "axisLeft": {"labelPadding": 12, "tickSize": {"condition": {"test": "abs(datum.value*2-round(datum.value*2))<0.001", "value": -8}, "value": -4}, "titleAngle": 0, "titleAlign": "right", "titleBaseline": "middle", "titleX": -65, "titleY": 87, "titleFontSize": 36, "titleFont": "Liberation Sans", "titleFontWeight": "bold", "titleColor": "black"}
}
}
